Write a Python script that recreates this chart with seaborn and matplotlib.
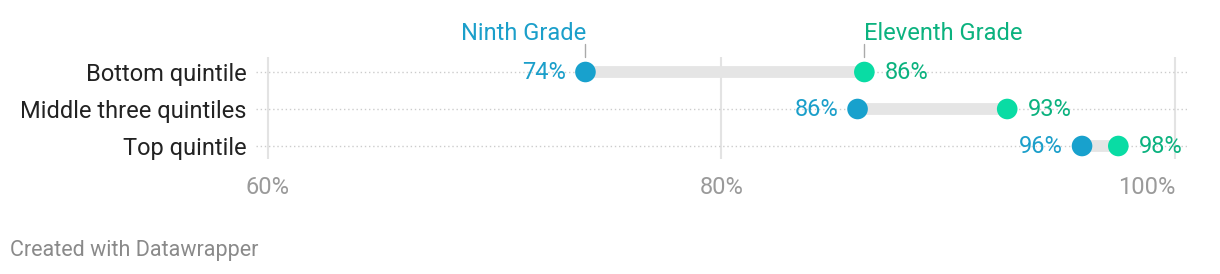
import matplotlib
matplotlib.use("Agg")
import matplotlib.pyplot as plt
import matplotlib.transforms as mtransforms
import seaborn as sns
import pandas as pd

categories = ["Bottom quintile", "Middle three quintiles", "Top quintile"]
ninth = [74.0, 86.0, 95.9]
eleventh = [86.3, 92.6, 97.5]
series_names = ["Ninth Grade", "Eleventh Grade"]
xticks = [60, 80, 100]
xtick_labels = ["60%", "80%", "100%"]

dot_colors = {"Ninth Grade": "#18a1cd", "Eleventh Grade": "#09dca4"}
text_colors = {"Ninth Grade": "#1b9fca", "Eleventh Grade": "#0bb27f"}

sns.set_theme(style="white")
plt.rcParams["font.family"] = ["Roboto", "DejaVu Sans"]

df = pd.DataFrame({
    "category": categories * 2,
    "value": ninth + eleventh,
    "series": [series_names[0]] * 3 + [series_names[1]] * 3,
})

W, H = 1220, 274
fig = plt.figure(figsize=(W / 100, H / 100), dpi=100)
left_px, right_px, top_px, bot_px = 256, 1187, 57, 159
ax = fig.add_axes([left_px / W, 1 - bot_px / H, (right_px - left_px) / W, (bot_px - top_px) / H])

ppu = (1175 - 268) / 40.0
x0 = 60 - (268 - left_px) / ppu
x1 = 100 + (right_px - 1175) / ppu

ypos = {c: i for i, c in enumerate(categories)}

for i in range(len(categories)):
    ax.plot([x0, x1], [i, i], color="#cccccc", lw=1, ls=(0, (1, 2)), zorder=1)
for t in xticks:
    ax.axvline(t, color="#e3e3e3", lw=1.5, zorder=0)
ax.hlines([ypos[c] for c in categories], ninth, eleventh, color="#e5e5e5", lw=8.5, zorder=2)

sns.scatterplot(data=df, x="value", y="category", hue="series", palette=dot_colors,
                s=220, edgecolor="none", legend=False, ax=ax, zorder=3, clip_on=False)

ax.set_xlim(x0, x1)
ax.set_ylim(2 + (bot_px - 146) / 37.0, -(72 - top_px) / 37.0)

FS = 17
for i, c in enumerate(categories):
    ax.annotate(f"{ninth[i]:.0f}%", (ninth[i], i), xytext=(-14, -0.5), textcoords="offset points",
                ha="right", va="center", fontsize=FS, color=text_colors["Ninth Grade"])
    ax.annotate(f"{eleventh[i]:.0f}%", (eleventh[i], i), xytext=(15, -0.5), textcoords="offset points",
                ha="left", va="center", fontsize=FS, color=text_colors["Eleventh Grade"])

ax.annotate(series_names[0], (ninth[0], 0), xytext=(0.5, 27.5), textcoords="offset points",
            ha="right", va="center", fontsize=FS, color=text_colors["Ninth Grade"], annotation_clip=False)
ax.annotate(series_names[1], (eleventh[0], 0), xytext=(0, 27.5), textcoords="offset points",
            ha="left", va="center", fontsize=FS, color=text_colors["Eleventh Grade"], annotation_clip=False)
btr = mtransforms.blended_transform_factory(ax.transData, fig.transFigure)
for xv in (ninth[0], eleventh[0]):
    ax.plot([xv, xv], [1 - 44 / H, 1 - 57 / H], transform=btr, color="#aaaaaa", lw=1,
            clip_on=False, zorder=4)

ax.set_yticks(range(len(categories)))
ax.set_yticklabels(categories, fontsize=FS, color="#222222")
ax.tick_params(axis="y", length=0, pad=7)
ax.set_xticks([])
ax.set_ylabel("")
ax.set_xlabel("")
for s in ax.spines.values():
    s.set_visible(False)

for t, lab in zip(xticks, xtick_labels):
    ha = "right" if t == xticks[-1] else "center"
    ax.annotate(lab, (t, 0), xycoords=("data", "axes fraction"), xytext=(0, -20.5),
                textcoords="offset points", ha=ha, va="center", fontsize=FS, color="#9a9a9a",
                annotation_clip=False)

fig.text(10 / W, 1 - 248 / H, "Created with Datawrapper", fontsize=15.5, color="#8a8a8a",
         ha="left", va="center_baseline")

fig.savefig("out.png", dpi=100, facecolor="white")
